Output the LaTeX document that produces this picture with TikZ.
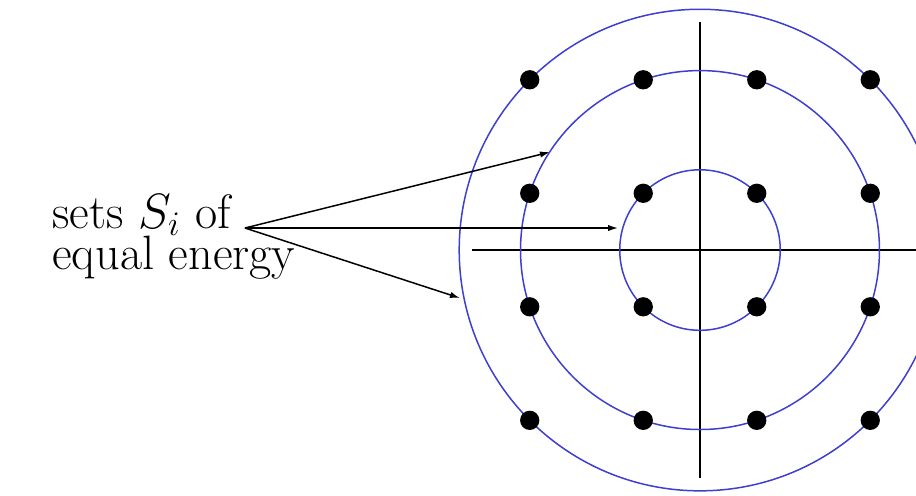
\documentclass[tikz,border=0pt]{standalone}
\usetikzlibrary{arrows.meta, positioning}
\definecolor{shellBlue}{RGB}{62,62,208}
\tikzset{
    >={Latex[length=5pt,width=3.2pt]},
    % Shapes
    dot/.style={circle, fill=black, inner sep=0pt, minimum size=0.34cm},
    lbl/.style={inner sep=0pt, align=left, font=\fontsize{24.2}{20.6}\selectfont},
    % Lines
    axis/.style={line width=1pt, black},
    shell/.style={line width=0.75pt, shellBlue},
    flow/.style={->, line width=0.75pt, black}
}

\begin{document}
\begin{tikzpicture}[x=2cm, y=2cm]
\useasboundingbox (-6.167,-2.159) rectangle (1.903,2.203);

% Axes
\draw[axis] (-2.01,0) -- (2.01,0);
\draw[axis] (0,-2.01) -- (0,2.01);

% Shells of equal energy
\foreach \r in {0.5, 2.5, 4.5}
    \draw[shell] (0,0) circle ({sqrt(\r)});

% Lattice points
\foreach \i in {1,...,4}
    \foreach \j in {1,...,4}
        \node[dot] (p-\i-\j) at ({\i-2.5},{\j-2.5}) {};

% Label
\node[lbl, anchor=base west] (sets) at (-5.709,-0.170) {sets $S_i$ of\\equal energy};
\coordinate (src) at (-4.009,0.194);
\coordinate (hitA) at (-1.322,0.863);
\coordinate (hitB) at (-0.722,0.194);
\coordinate (hitC) at (-2.115,-0.423);

% Arrows
\draw[flow] (src) -- (hitA);
\draw[flow] (src) -- (hitB);
\draw[flow] (src) -- (hitC);

\end{tikzpicture}
\end{document}
